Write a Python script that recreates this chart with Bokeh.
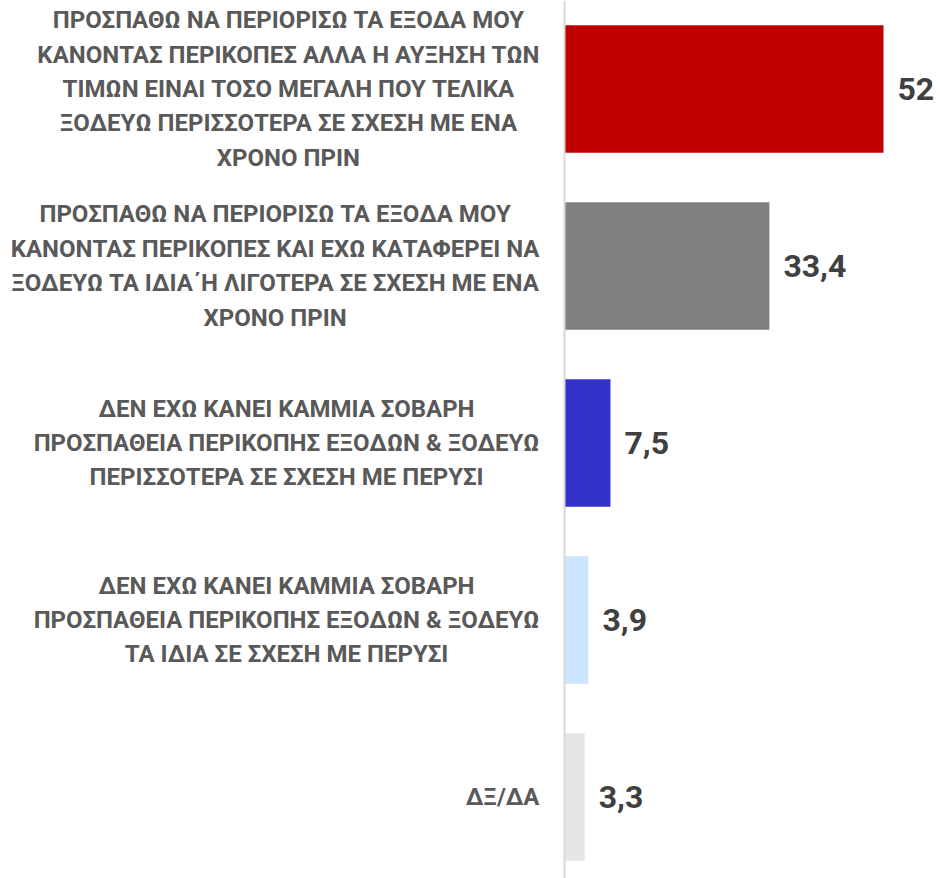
from bokeh.plotting import figure
from bokeh.models import ColumnDataSource, Range1d, Span
from bokeh.core.properties import value
from bokeh.embed import file_html
from bokeh.resources import INLINE

categories = [
    "ΠΡΟΣΠΑΘΩ ΝΑ ΠΕΡΙΟΡΙΣΩ ΤΑ ΕΞΟΔΑ ΜΟΥ\nΚΑΝΟΝΤΑΣ ΠΕΡΙΚΟΠΕΣ ΑΛΛΑ Η ΑΥΞΗΣΗ ΤΩΝ\nΤΙΜΩΝ ΕΙΝΑΙ ΤΟΣΟ ΜΕΓΑΛΗ ΠΟΥ ΤΕΛΙΚΑ\nΞΟΔΕΥΩ ΠΕΡΙΣΣΟΤΕΡΑ ΣΕ ΣΧΕΣΗ ΜΕ ΕΝΑ\nΧΡΟΝΟ ΠΡΙΝ",
    "ΠΡΟΣΠΑΘΩ ΝΑ ΠΕΡΙΟΡΙΣΩ ΤΑ ΕΞΟΔΑ ΜΟΥ\nΚΑΝΟΝΤΑΣ ΠΕΡΙΚΟΠΕΣ ΚΑΙ ΕΧΩ ΚΑΤΑΦΕΡΕΙ ΝΑ\nΞΟΔΕΥΩ ΤΑ ΙΔΙΑ΄Η ΛΙΓΟΤΕΡΑ ΣΕ ΣΧΕΣΗ ΜΕ ΕΝΑ\nΧΡΟΝΟ ΠΡΙΝ",
    "ΔΕΝ ΕΧΩ ΚΑΝΕΙ ΚΑΜΜΙΑ ΣΟΒΑΡΗ\nΠΡΟΣΠΑΘΕΙΑ ΠΕΡΙΚΟΠΗΣ ΕΞΟΔΩΝ & ΞΟΔΕΥΩ\nΠΕΡΙΣΣΟΤΕΡΑ ΣΕ ΣΧΕΣΗ ΜΕ ΠΕΡΥΣΙ",
    "ΔΕΝ ΕΧΩ ΚΑΝΕΙ ΚΑΜΜΙΑ ΣΟΒΑΡΗ\nΠΡΟΣΠΑΘΕΙΑ ΠΕΡΙΚΟΠΗΣ ΕΞΟΔΩΝ & ΞΟΔΕΥΩ\nΤΑ ΙΔΙΑ ΣΕ ΣΧΕΣΗ ΜΕ ΠΕΡΥΣΙ",
    "ΔΞ/ΔΑ",
]
values = [52, 33.4, 7.5, 3.9, 3.3]
value_labels = ["52", "33,4", "7,5", "3,9", "3,3"]
colors = ["#C00000", "#808080", "#3333CC", "#CCE6FF", "#E6E6E6"]

positions = list(range(len(categories)))

source = ColumnDataSource(data=dict(
    y=positions,
    value=values,
    label=value_labels,
    cat=categories,
    color=colors,
    zero=[0] * len(values),
))

p = figure(
    width=940, height=878,
    x_range=Range1d(-91.93, 61.29),
    y_range=Range1d(4.4605, -0.5),
    output_backend="svg",
    toolbar_location=None,
    min_border=0,
)
p.axis.visible = False
p.grid.visible = False
p.outline_line_color = None
p.background_fill_color = "white"
p.border_fill_color = "white"

p.hbar(y="y", left=0, right="value", height=0.72, color="color",
       line_color=None, source=source)

p.add_layout(Span(location=0, dimension="height", line_color="#d9d9d9",
                  line_width=2))

p.text(x="value", y="y", text="label", source=source,
       x_offset=14, text_align="left", text_baseline="middle",
       text_font=value("Roboto"), text_font_style="bold",
       text_font_size="32px", text_color="#404040")

p.text(x="zero", y="y", text="cat", source=source,
       x_offset=-25, text_align="center", anchor="center_right",
       text_baseline="middle", text_line_height=1.23,
       text_font=value("Roboto"), text_font_style="bold",
       text_font_size="24px", text_color="#595959")

open("out.html", "w").write(file_html(p, INLINE))
